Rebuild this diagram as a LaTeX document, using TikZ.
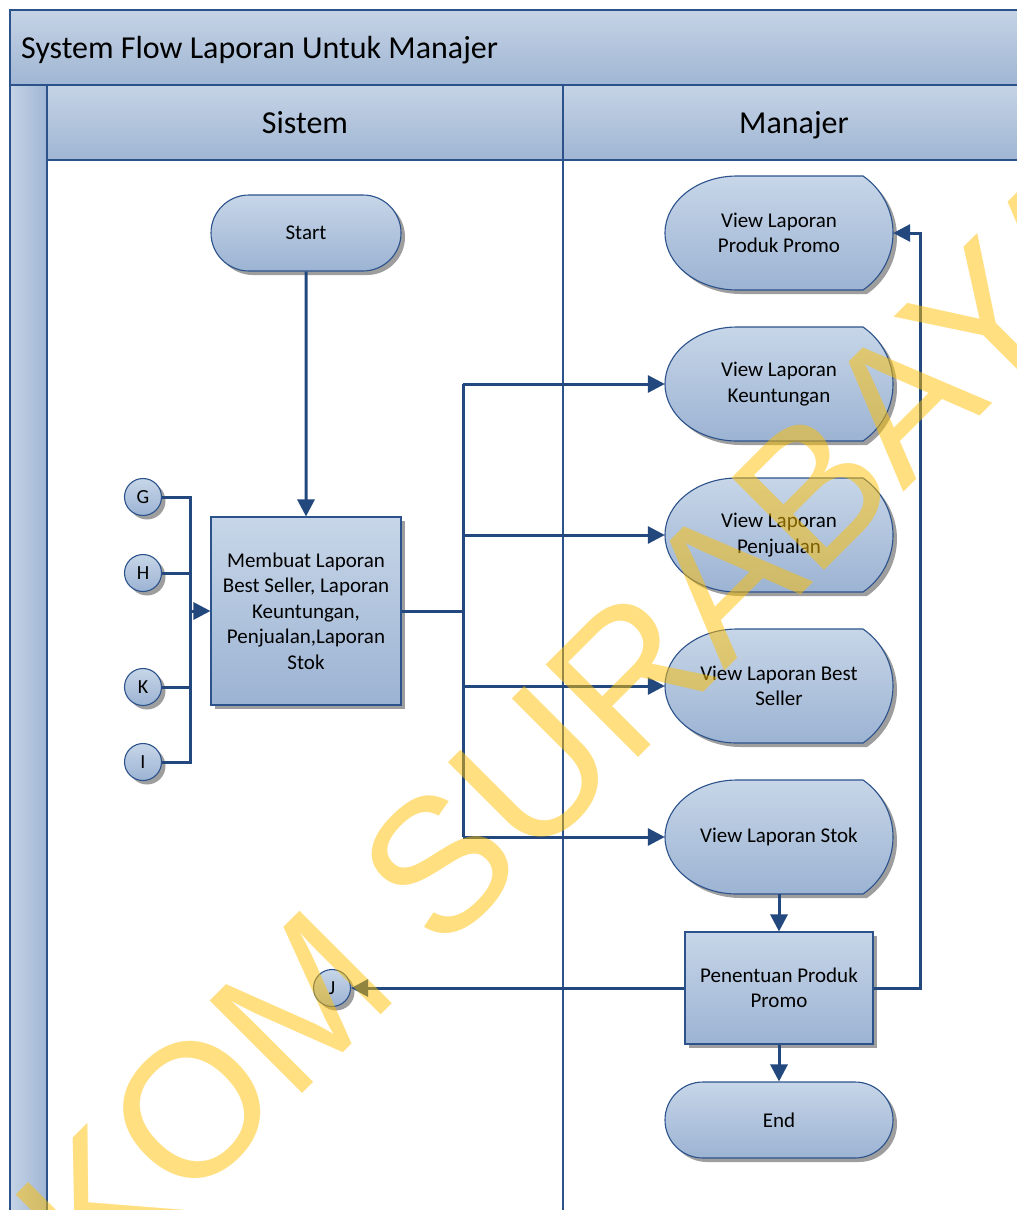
\documentclass[tikz,border=0pt]{standalone}
\usepackage{fontspec}
\setmainfont{Carlito}
\newfontfamily\markfont{Liberation Sans}
\usetikzlibrary{arrows.meta,shapes.misc,shadows,calc}

\definecolor{lineblue}{RGB}{34,72,126}
\definecolor{edgeblue}{RGB}{44,82,140}
\definecolor{filltop}{RGB}{199,214,232}
\definecolor{fillbot}{RGB}{156,179,211}
\definecolor{hdtop}{RGB}{197,211,229}
\definecolor{hdbot}{RGB}{160,182,212}
\definecolor{markyellow}{RGB}{255,192,0}

\tikzset{
  frame/.style={draw=edgeblue, line width=2pt},
  shapefill/.style={draw=edgeblue, line width=1.1pt, top color=filltop, bottom color=fillbot,
    drop shadow={shadow xshift=4pt, shadow yshift=-4pt, fill=black!38, opacity=1}},
  bodytext/.style={font=\fontsize{21}{25.5}\selectfont, align=center},
  procbox/.style={shapefill, bodytext, rectangle, inner sep=0pt},
  termbox/.style={shapefill, bodytext, rounded rectangle, inner sep=0pt},
  viewtext/.style={bodytext, rectangle, draw=none, inner sep=0pt, minimum width=228pt, minimum height=114pt},
  offpage/.style={shapefill, circle, minimum size=37pt, inner sep=0pt, font=\fontsize{20}{24}\selectfont},
  headtext/.style={inner sep=0pt, font=\fontsize{32}{38}\selectfont},
  conn/.style={draw=lineblue, line width=3pt},
  flow/.style={conn, -{Triangle[length=17pt,width=17pt]}},
}

% display (view) shape centred at (#1,#2)
\newcommand{\viewshape}[2]{%
  \draw[shapefill] (#1-42,#2-57) -- (#1+84,#2-57)
    .. controls (#1+102.8,#2-44.1) and (#1+114,#2-22.8) .. (#1+114,#2)
    .. controls (#1+114,#2+22.8) and (#1+102.8,#2+44.1) .. (#1+84,#2+57)
    -- (#1-42,#2+57)
    .. controls (#1-81.8,#2+57) and (#1-114,#2+31.5) .. (#1-114,#2)
    .. controls (#1-114,#2-31.5) and (#1-81.8,#2-57) .. cycle;}

\begin{document}
\begin{tikzpicture}[x=1pt,y=-1pt]
\useasboundingbox (0,0) rectangle (1017,1210);
\clip (0,0) rectangle (1017,1210);
\fill[white] (0,0) rectangle (1017,1210);

% pool and lanes
\draw[frame, top color=hdtop, bottom color=hdbot] (10,10) rectangle (1040,85);
\draw[frame, left color=hdtop, right color=hdbot] (10,85) rectangle (47,1240);
\draw[frame, top color=hdtop, bottom color=hdbot] (47,85) rectangle (563,160);
\draw[frame, top color=hdtop, bottom color=hdbot] (563,85) rectangle (1025,160);
\draw[frame, fill=white] (47,160) rectangle (563,1240);
\draw[frame, fill=white] (563,160) rectangle (1025,1240);

\node[headtext, anchor=base west] (title) at (21,58) {System Flow Laporan Untuk Manajer};
\node[headtext, anchor=base] (laneA) at (305,133) {Sistem};
\node[headtext, anchor=base] (laneB) at (794,133) {Manajer};

% Sistem lane
\node[termbox, minimum width=190pt, minimum height=76pt] (start) at (306,233) {Start};
\node[procbox, minimum width=190pt, minimum height=188pt] (proc) at (306,611)
  {Membuat Laporan\\Best Seller, Laporan\\Keuntungan,\\Penjualan,Laporan\\Stok};
\node[offpage] (G) at (143,497) {G};
\node[offpage] (H) at (143,573) {H};
\node[offpage] (K) at (143,687) {K};
\node[offpage] (I) at (143,762) {I};
\node[offpage] (J) at (332,988) {J};
\coordinate (bus) at (190,611);
\coordinate (split) at (463,611);
\coordinate (ret) at (920,611);

% Manajer lane
\viewshape{779}{233}
\node[viewtext] (vPromo) at (779,233) {View Laporan\\Produk Promo};
\viewshape{779}{384}
\node[viewtext] (vKeu) at (779,384) {View Laporan\\Keuntungan};
\viewshape{779}{535}
\node[viewtext] (vJual) at (779,535) {View Laporan\\Penjualan};
\viewshape{779}{686}
\node[viewtext] (vBest) at (779,686) {View Laporan Best\\Seller};
\viewshape{779}{837}
\node[viewtext] (vStok) at (779,837) {View Laporan Stok};
\node[procbox, minimum width=188pt, minimum height=112pt] (pen) at (779,988) {Penentuan Produk\\Promo};
\node[termbox, minimum width=228pt, minimum height=76pt] (endn) at (779,1120) {End};

% connectors
\draw[flow] (start) -- (proc);
\draw[conn] (G.east) -- (G.east -| bus) -- (I.east -| bus) -- (I.east);
\draw[conn] (H.east) -- (H.east -| bus);
\draw[conn] (K.east) -- (K.east -| bus);
\draw[flow] (bus) -- (proc.west);
\draw[conn] (proc.east) -- (split);
\draw[conn] (vKeu.west -| split) -- (vStok.west -| split);
\draw[flow] (vKeu.west -| split) -- (vKeu.west);
\draw[flow] (vJual.west -| split) -- (vJual.west);
\draw[flow] (vBest.west -| split) -- (vBest.west);
\draw[flow] (vStok.west -| split) -- (vStok.west);
\draw[flow] (vStok.south) -- (pen.north);
\draw[flow] (pen.south) -- (endn.north);
\draw[flow] (pen.west) -- (J.east);
\draw[flow] (pen.east) -| (ret) |- (vPromo.east);

% watermark
\node[rotate=45, inner sep=0pt, text=markyellow, text opacity=0.5,
  font=\markfont\fontsize{190}{190}\selectfont] (mark) at (474,829) {STIKOM SURABAYA};
\end{tikzpicture}
\end{document}
